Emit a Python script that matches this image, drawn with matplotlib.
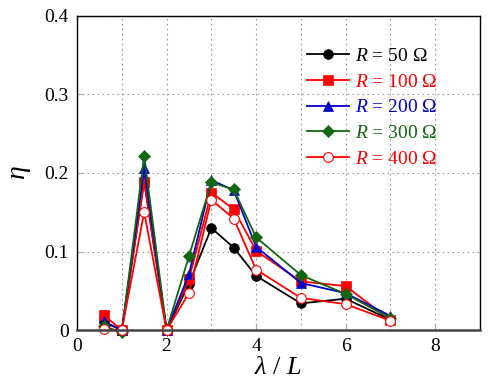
import matplotlib
matplotlib.use("Agg")
import matplotlib.pyplot as plt
from matplotlib.ticker import FuncFormatter

plt.rcParams['font.family'] = ['Liberation Serif', 'DejaVu Serif']
plt.rcParams['mathtext.fontset'] = 'custom'
plt.rcParams['mathtext.it'] = 'Liberation Serif:italic'
plt.rcParams['mathtext.rm'] = 'Liberation Serif'

# lambda / L
x = [0.6, 1, 1.5, 2, 2.5, 3, 3.5, 4, 5, 6, 7]

eta_50 = [0.010, 0.0, 0.190, 0.0, 0.059, 0.130, 0.105, 0.069, 0.034, 0.040, 0.013]
eta_100 = [0.019, 0.0, 0.189, 0.0, 0.065, 0.175, 0.154, 0.101, 0.062, 0.056, 0.013]
eta_200 = [0.011, 0.0, 0.206, 0.0, 0.071, 0.191, 0.178, 0.106, 0.060, 0.047, 0.018]
eta_300 = [0.005, -0.003, 0.222, 0.0, 0.094, 0.188, 0.179, 0.118, 0.070, 0.046, 0.015]
eta_400 = [0.001, 0.0, 0.150, 0.0, 0.047, 0.166, 0.142, 0.077, 0.041, 0.033, 0.012]

fig = plt.figure(figsize=(5, 3.87), dpi=100)
ax = fig.add_axes([0.154, 0.147, 0.806, 0.812])

ms = 7
lw = 1.3
series = [
    (eta_50, "black", "o", "black", "R = 50 Ω"),
    (eta_100, "red", "s", "red", "R = 100 Ω"),
    (eta_200, "#0000cc", "^", "#0000cc", "R = 200 Ω"),
    (eta_300, "#116611", "D", "#116611", "R = 300 Ω"),
    (eta_400, "red", "o", "white", "R = 400 Ω"),
]
for y, c, m, fc, lab in series:
    msz = ms - 1 if m == "D" else ms
    ax.plot(x, y, color=c, marker=m, markersize=msz, markerfacecolor=fc,
            markeredgecolor=c, markeredgewidth=0.8 if fc == "white" else 0.5,
            linewidth=lw, label=" ", clip_on=False)

ax.set_xlim(0, 9)
ax.set_ylim(0, 0.4)
ax.set_xticks([0, 2, 4, 6, 8])
ax.set_xticks([1, 3, 5, 7, 9], minor=True)
ax.set_yticks([0, 0.1, 0.2, 0.3, 0.4])
ax.yaxis.set_major_formatter(FuncFormatter(lambda v, p: "0" if v == 0 else f"{v:.1f}"))
ax.grid(True, which="both", axis="x", linestyle=(0, (1.5, 3)), color="#999999", linewidth=0.8)
ax.grid(True, which="major", axis="y", linestyle=(0, (1.5, 3)), color="#999999", linewidth=0.8)
ax.tick_params(which="both", direction="in", length=4, color="#aaaaaa", labelsize=14, pad=6)
ax.tick_params(which="minor", length=0)

for s in ["left", "top", "right"]:
    ax.spines[s].set_linewidth(1.0)
ax.spines["bottom"].set_linewidth(1.8)
ax.spines["bottom"].set_color("#444444")

ax.set_xlabel(r"$\lambda$ / $L$", fontsize=19, labelpad=1)
ax.set_ylabel(r"$\eta$", fontsize=20, labelpad=8)

leg = ax.legend(loc="upper left", bbox_to_anchor=(0.57, 0.90), frameon=False,
                fontsize=14, handlelength=2.2, handletextpad=0.3, labelspacing=0.42,
                borderpad=0, borderaxespad=0)
# coloured legend labels, italic R and upright rest
for txt, (y, c, m, fc, lab) in zip(leg.get_texts(), series):
    txt.set_text(r"$R$" + lab[1:])
    txt.set_color(c)

fig.savefig("out.png", dpi=100)
